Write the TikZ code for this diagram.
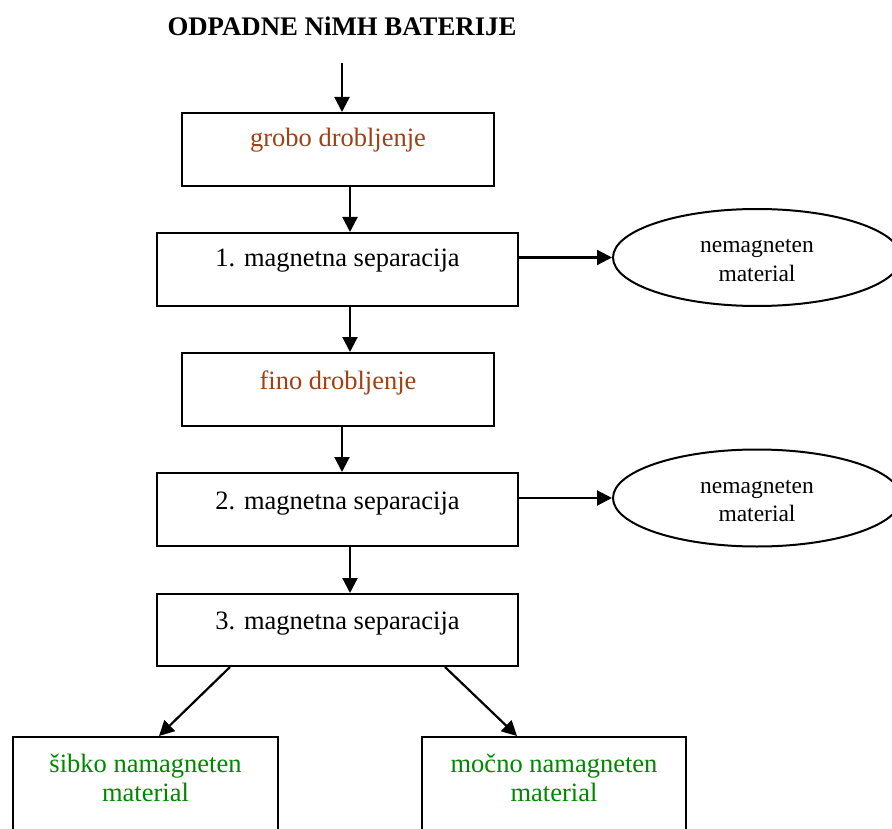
\documentclass[tikz,border=0pt]{standalone}
\usepackage{fontspec}
\setmainfont{Liberation Serif}
\usetikzlibrary{shapes.geometric,arrows.meta}
\definecolor{brownt}{RGB}{160,65,20}
\definecolor{greent}{RGB}{0,135,0}
\tikzset{
  box/.style={draw, line width=2pt, rectangle, inner sep=0pt},
  oval/.style={draw, line width=2pt, ellipse, inner sep=0pt, minimum width=288pt, minimum height=97pt},
  txt/.style={anchor=base, inner sep=0pt, font=\fontsize{26.5}{30.5}\selectfont},
  smalltxt/.style={anchor=base, inner sep=0pt, font=\fontsize{23.5}{27}\selectfont},
  arr/.style={line width=2.2pt, -{Triangle[length=15pt,width=15pt]}},
}
\begin{document}
\begin{tikzpicture}[x=1pt,y=-1pt]
\useasboundingbox (0,0) rectangle (892,829);
\clip (0,0) rectangle (892,829);
\fill[white] (0,0) rectangle (892,829);
% title
\node[txt, font=\fontsize{26.8}{30.5}\selectfont\bfseries] (title) at (342,36) {ODPADNE NiMH BATERIJE};
\coordinate (start) at (342,63);
% boxes
\node[box, minimum width=312pt, minimum height=73pt] (b1) at (338,149.5) {};
\node[box, minimum width=361pt, minimum height=73pt] (b2) at (337.5,269.5) {};
\node[box, minimum width=312pt, minimum height=73pt] (b3) at (338,389.5) {};
\node[box, minimum width=361pt, minimum height=73pt] (b4) at (337.5,509.5) {};
\node[box, minimum width=361pt, minimum height=72pt] (b5) at (337.5,630) {};
\node[box, minimum width=265pt, minimum height=120pt] (bl) at (145.5,797) {};
\node[box, minimum width=264pt, minimum height=120pt] (br) at (554,797) {};
% ellipses
\node[oval] (e1) at (757,257.5) {};
\node[oval] (e2) at (757,498) {};
% texts
\node[txt, text=brownt] (t1) at ([yshift=-35pt]b1.north) {grobo drobljenje};
\node[txt] (t2) at ([yshift=-35pt]b2.north) {1. magnetna separacija};
\node[txt, text=brownt] (t3) at ([yshift=-37pt]b3.north) {fino drobljenje};
\node[txt] (t4) at ([yshift=-37pt]b4.north) {2. magnetna separacija};
\node[txt] (t5) at ([yshift=-36pt]b5.north) {3. magnetna separacija};
\node[txt, text=greent] (tl1) at ([yshift=-36pt]bl.north) {šibko namagneten};
\node[txt, text=greent] (tl2) at ([yshift=-65pt]bl.north) {material};
\node[txt, text=greent] (tr1) at ([yshift=-36pt]br.north) {močno namagneten};
\node[txt, text=greent] (tr2) at ([yshift=-65pt]br.north) {material};
\node[smalltxt] (te1a) at ([yshift=4.5pt]e1.center) {nemagneten};
\node[smalltxt] (te1b) at ([yshift=-23.5pt]e1.center) {material};
\node[smalltxt] (te2a) at ([yshift=4.5pt]e2.center) {nemagneten};
\node[smalltxt] (te2b) at ([yshift=-23.5pt]e2.center) {material};
% connectors
\draw[arr] (start) -- (start |- b1.north);
\draw[arr] ([xshift=12pt]b1.south) -- ([xshift=12pt]b1.south |- b2.north);
\draw[arr] ([xshift=12.5pt]b2.south) -- ([xshift=12.5pt]b2.south |- b3.north);
\draw[arr] ([xshift=4pt]b3.south) -- ([xshift=4pt]b3.south |- b4.north);
\draw[arr] ([xshift=12.5pt]b4.south) -- ([xshift=12.5pt]b4.south |- b5.north);
\draw[arr] (b2.east |- e1.west) -- (e1.west);
\draw[arr] (b4.east |- e2.west) -- (e2.west);
\draw[arr] ([xshift=-107.5pt]b5.south) -- ([xshift=13.5pt]bl.north);
\draw[arr] ([xshift=107.5pt]b5.south) -- ([xshift=-37pt]br.north);
\end{tikzpicture}
\end{document}
